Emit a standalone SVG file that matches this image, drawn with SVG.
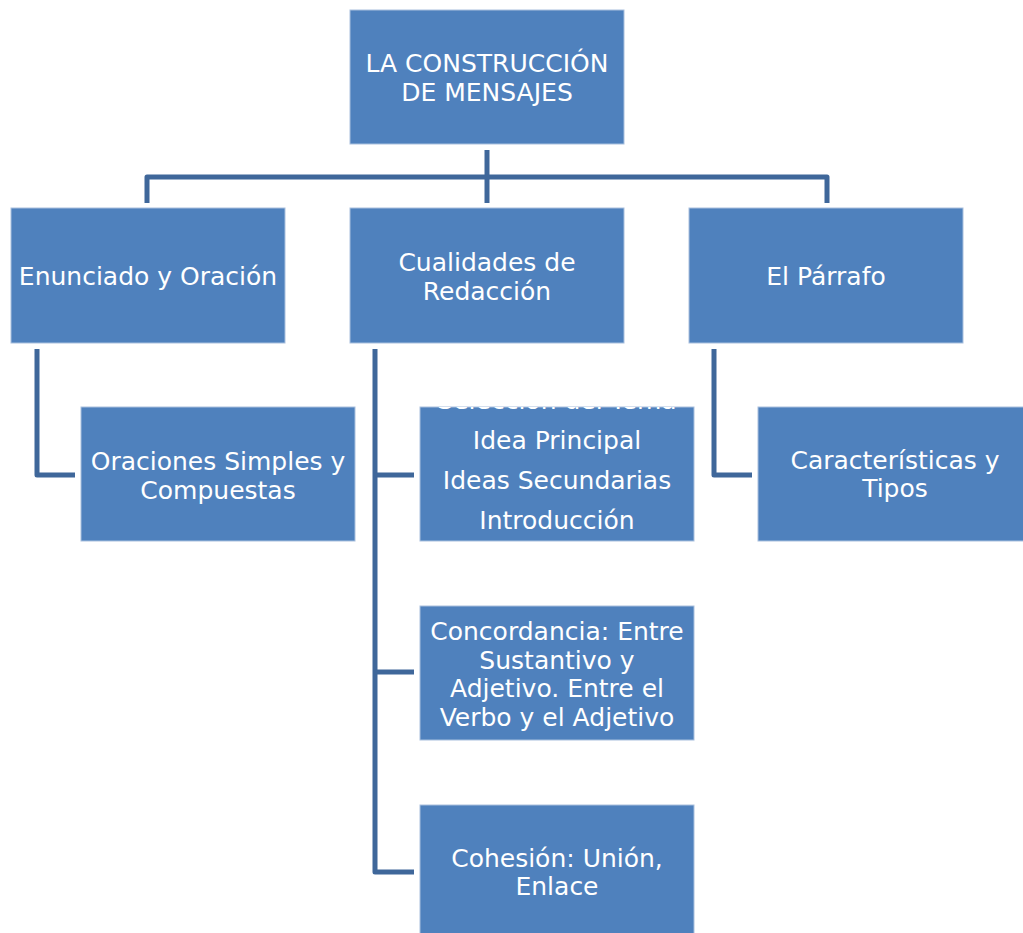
<svg xmlns="http://www.w3.org/2000/svg" width="1023" height="933" viewBox="0 0 1023 933">
<style>
.box{fill:#4F81BD;stroke:#A9C0DE;stroke-width:1}
.t{fill:#FFFFFF;font-family:"DejaVu Sans","Open Sans",sans-serif;font-size:25px;text-anchor:middle}
.c{fill:none;stroke:#3F679A;stroke-width:5;stroke-linecap:butt;stroke-linejoin:round}
</style>
<defs>
<clipPath id="clipSel"><rect x="420" y="407" width="274" height="134"/></clipPath>
</defs>
<rect width="1023" height="933" fill="#FFFFFF"/>
<g id="connectors">
<path class="c" d="M487,150 V203"/>
<path class="c" d="M147,203 V177 H827 V203"/>
<path class="c" d="M37,349 V475 H75"/>
<path class="c" d="M375,349 V872 H414"/>
<path class="c" d="M375,475 H414"/>
<path class="c" d="M375,672 H414"/>
<path class="c" d="M714,349 V475 H752"/>
</g>
<g id="root">
<rect class="box" x="350" y="10" width="274" height="134"/>
<text class="t" x="487" y="72">LA CONSTRUCCIÓN</text>
<text class="t" x="487" y="101">DE MENSAJES</text>
</g>
<g id="enunciado">
<rect class="box" x="11" y="208" width="274" height="135"/>
<text class="t" x="148" y="285">Enunciado y Oración</text>
</g>
<g id="cualidades">
<rect class="box" x="350" y="208" width="274" height="135"/>
<text class="t" x="487" y="271">Cualidades de</text>
<text class="t" x="487" y="300">Redacción</text>
</g>
<g id="parrafo">
<rect class="box" x="689" y="208" width="274" height="135"/>
<text class="t" x="826" y="285">El Párrafo</text>
</g>
<g id="oraciones">
<rect class="box" x="81" y="407" width="274" height="134"/>
<text class="t" x="218" y="470">Oraciones Simples y</text>
<text class="t" x="218" y="499">Compuestas</text>
</g>
<g id="seleccion">
<rect class="box" x="420" y="407" width="274" height="134"/>
<g clip-path="url(#clipSel)">
<text class="t" x="557" y="409">Selección del Tema</text>
<text class="t" x="557" y="449">Idea Principal</text>
<text class="t" x="557" y="489">Ideas Secundarias</text>
<text class="t" x="557" y="529">Introducción</text>
</g>
</g>
<g id="concordancia">
<rect class="box" x="420" y="606" width="274" height="134"/>
<text class="t" x="557" y="640">Concordancia: Entre</text>
<text class="t" x="557" y="669">Sustantivo y</text>
<text class="t" x="557" y="697">Adjetivo. Entre el</text>
<text class="t" x="557" y="726">Verbo y el Adjetivo</text>
</g>
<g id="cohesion">
<rect class="box" x="420" y="805" width="274" height="134"/>
<text class="t" x="557" y="867">Cohesión: Unión,</text>
<text class="t" x="557" y="895">Enlace</text>
</g>
<g id="caracteristicas">
<rect class="box" x="758" y="407" width="274" height="134"/>
<text class="t" x="895" y="469">Características y</text>
<text class="t" x="895" y="497">Tipos</text>
</g>
</svg>
